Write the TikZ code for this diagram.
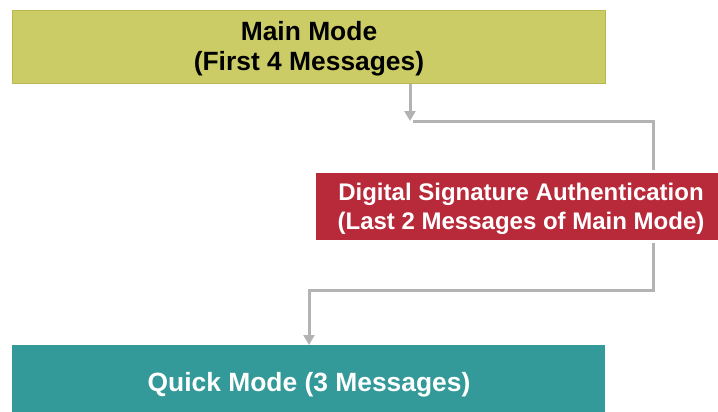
\documentclass[tikz,border=0pt]{standalone}
\usepackage{fontspec}
\setmainfont{Liberation Sans}
\usetikzlibrary{arrows.meta}
\definecolor{mmfill}{HTML}{CCCC66}
\definecolor{mmborder}{HTML}{B8B84E}
\definecolor{dsfill}{HTML}{B82A3A}
\definecolor{qmfill}{HTML}{339999}
\definecolor{linegray}{HTML}{B3B3B3}
\tikzset{
  box/.style={rectangle, inner sep=0pt, anchor=north west},
  lbl/.style={font=\bfseries\fontsize{26.4}{30}\selectfont, align=center, inner sep=0pt},
  lblsmall/.style={font=\bfseries\fontsize{24}{29}\selectfont, align=center, inner sep=0pt, text=white},
  conn/.style={draw=linegray, line width=3pt},
  arr/.style={conn, -{Triangle[width=11pt,length=10pt]}}
}
\begin{document}
\begin{tikzpicture}[x=1pt,y=-1pt]
\useasboundingbox (0,0) rectangle (718,412);
\node[box, fill=mmfill, draw=mmborder, line width=0.8pt, minimum width=593pt, minimum height=73pt] (main) at (12,10) {};
\node[box, fill=dsfill, minimum width=404pt, minimum height=67pt] (red) at (316,173) {};
\node[box, fill=qmfill, minimum width=593pt, minimum height=70pt] (quick) at (12,345) {};
\node[lbl] (maint) at (309,49) {Main Mode\\(First 4 Messages)};
\node[lblsmall] (redt) at (521,209) {Digital Signature Authentication\\(Last 2 Messages of Main Mode)};
\node[lbl, text=white] (quickt) at (309,385) {Quick Mode (3 Messages)};
\coordinate (a1) at (410,121);
\coordinate (b1) at (413,121);
\coordinate (b2) at (653,121);
\coordinate (c1) at (653,290);
\coordinate (c2) at (309,290);
\draw[arr] (main.south -| a1) -- (a1);
\draw[conn, shorten >=3pt] (b1) -- (b2) -- (b2 |- red.north);
\draw[arr, shorten <=3pt] (red.south -| c1) -- (c1) -- (c2) -- (c2 |- quick.north);
\end{tikzpicture}
\end{document}
